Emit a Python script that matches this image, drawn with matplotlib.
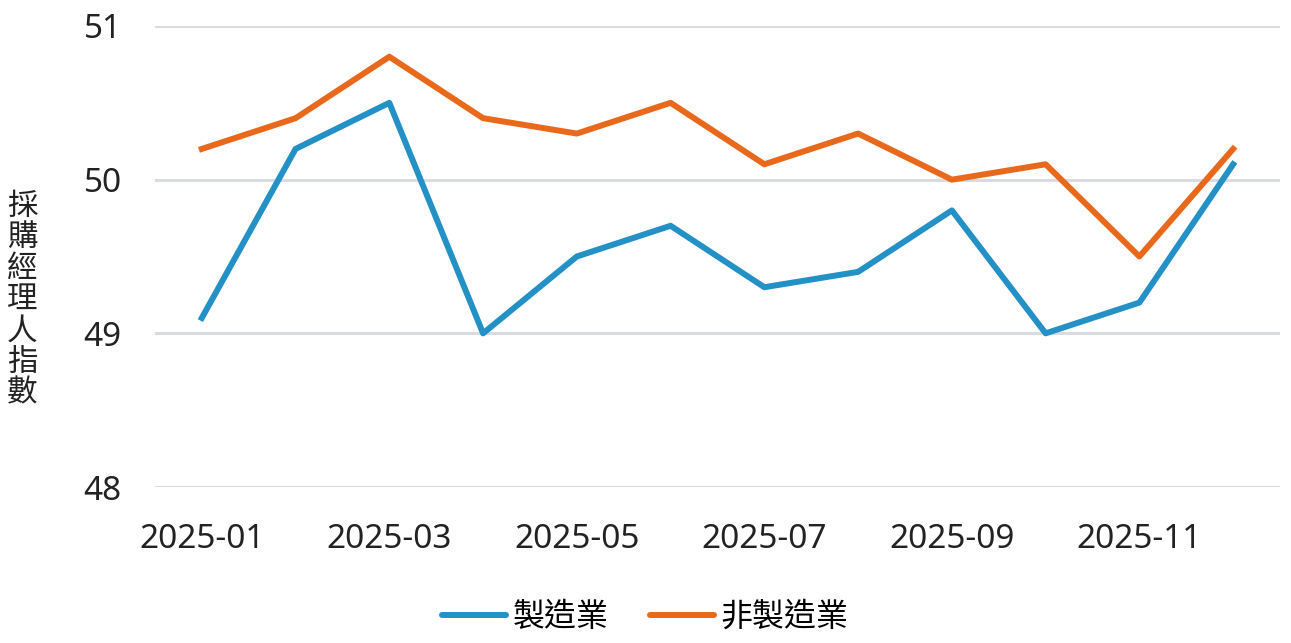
import matplotlib
matplotlib.use("Agg")
import matplotlib.pyplot as plt

plt.rcParams['font.family'] = ['Noto Sans', 'Noto Sans CJK TC', 'DejaVu Sans']

# Monthly PMI values
months = ["2025-01", "2025-02", "2025-03", "2025-04", "2025-05", "2025-06",
          "2025-07", "2025-08", "2025-09", "2025-10", "2025-11", "2025-12"]
manufacturing = [49.1, 50.2, 50.5, 49.0, 49.5, 49.7, 49.3, 49.4, 49.8, 49.0, 49.2, 50.1]
non_manufacturing = [50.2, 50.4, 50.8, 50.4, 50.3, 50.5, 50.1, 50.3, 50.0, 50.1, 49.5, 50.2]
y_ticks = [48, 49, 50, 51]

fig = plt.figure(figsize=(12.91, 6.43), dpi=100)
ax = fig.add_axes([0.12, 0.2426, 0.8715, 0.717])

x = list(range(len(months)))
ax.plot(x, manufacturing, color="#2390C6", linewidth=4.3, label="製造業")
ax.plot(x, non_manufacturing, color="#E8691C", linewidth=4.3, label="非製造業")

ax.set_xlim(-0.5, len(months) - 0.5)
ax.set_ylim(48, 51)
ax.set_yticks(y_ticks)
ax.set_xticks(x[::2])
ax.set_xticklabels(months[::2])

ax.grid(axis="y", color="#D9DBE0", linewidth=2.2)
ax.set_axisbelow(True)
for s in ax.spines.values():
    s.set_visible(False)
ax.tick_params(axis="both", length=0, labelsize=24, colors="#222222")
ax.tick_params(axis="y", pad=24)
ax.tick_params(axis="x", pad=26)

# vertical y label, one character per line
fig.text(0.017, 0.533, "\n".join("採購經理人指數"), fontsize=22,
         ha="center", va="center", linespacing=1.05, color="#222222")

leg = fig.legend(loc="center", bbox_to_anchor=(0.5, 0.04), ncol=2, frameon=False,
                 fontsize=23, handlelength=2.0, handletextpad=0.2, columnspacing=1.3)
for h in leg.legend_handles:
    h.set_solid_capstyle("round")

fig.savefig("out.png", dpi=100)
